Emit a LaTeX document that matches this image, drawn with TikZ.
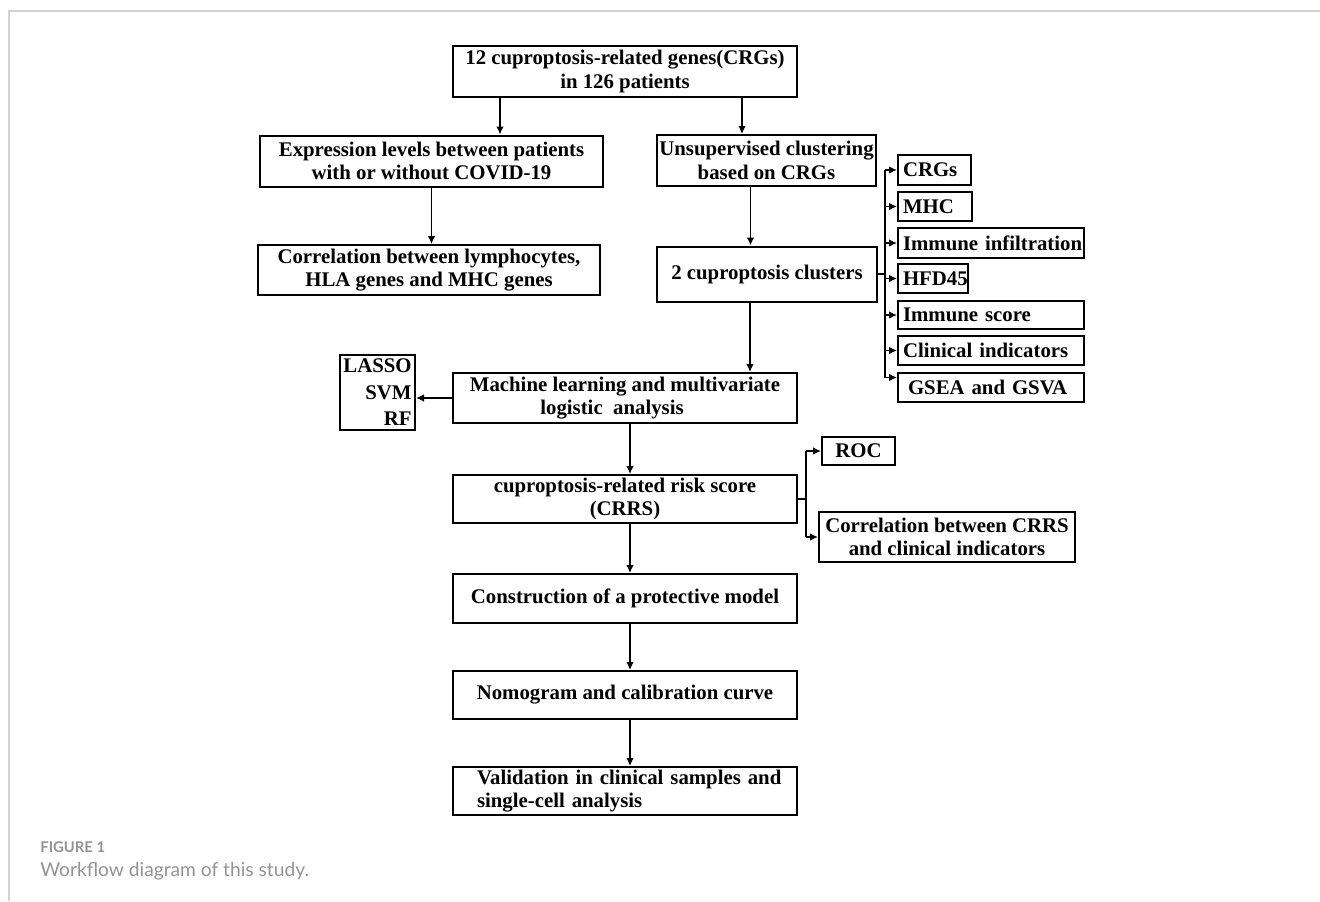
\documentclass[tikz,border=0pt]{standalone}
\usepackage{fontspec}
\setmainfont{Liberation Serif}
\newfontfamily\capfont{Lato}
\usetikzlibrary{arrows.meta,calc}
\begin{document}
\begin{tikzpicture}[x=.5pt,y=-.5pt,
    every node/.style={font=\bfseries\fontsize{10.4}{11.7}\selectfont},
    box/.style={draw,line width=1pt,inner sep=0pt,align=center},
    tag/.style={box,anchor=west,align=left,inner xsep=2.5pt},
    arr/.style={-{Latex[length=4pt,width=3.8pt]},line width=.75pt},
    link/.style={line width=.75pt},
    captext/.style={anchor=base west,text=gray!85,inner sep=0pt}]
    \useasboundingbox (0,0) rectangle (1320,901);
    \draw[gray!35,line width=.75pt] (1320,11) -- (9,11) -- (9,901);

    \node[box,minimum width=172pt,minimum height=25.5pt] (gen) at (625,71.5) {12 cuproptosis-related genes(CRGs)\\in 126 patients};
    \node[box,minimum width=171.5pt,minimum height=25.5pt] (expr) at (431.5,161) {Expression levels between patients\\with or without COVID-19};
    \node[box,minimum width=109.5pt,minimum height=25.5pt] (unsup) at (766.5,160.5) {Unsupervised clustering\\based on CRGs};
    \node[box,minimum width=171pt,minimum height=25pt] (corr) at (429,270) {Correlation between lymphocytes,\\HLA genes and MHC genes};
    \node[box,minimum width=110pt,minimum height=27.5pt] (clus) at (767,274) {2 cuproptosis clusters};

    \node[tag,text width=31.5pt,minimum height=15pt] (crgs) at (897,170) {CRGs};
    \node[tag,text width=32pt,minimum height=14.5pt] (mhc) at (897,206.5) {MHC};
    \node[tag,text width=88pt,minimum height=15pt] (inf) at (897,243) {\mbox{Immune infiltration}};
    \node[tag,text width=30pt,minimum height=14.5pt] (hfd) at (897,278.5) {HFD45};
    \node[tag,text width=88pt,minimum height=14pt] (isc) at (897,315) {\mbox{Immune score}};
    \node[tag,text width=88pt,minimum height=14.5pt] (clin) at (897,350.5) {\mbox{Clinical indicators}};
    \node[tag,text width=88pt,minimum height=14.5pt] (gsea) at (897,387.5) {\hspace{2.5pt}\mbox{GSEA and GSVA}};

    \node[box,minimum width=172pt,minimum height=25pt] (ml) at (625,398) {Machine learning and multivariate\\logistic~ analysis\hspace*{13pt}};
    \node[box,minimum width=37.5pt,minimum height=37.5pt,align=right] (lasso) at (377.5,392.5) {LASSO\\[1.5pt]SVM\\[1.5pt]RF};
    \node[box,minimum width=172pt,minimum height=24pt] (crrs) at (625,499) {cuproptosis-related risk score\\(CRRS)};
    \node[box,minimum width=36.5pt,minimum height=14pt] (roc) at (858.5,451) {ROC};
    \node[box,minimum width=128pt,minimum height=25pt] (cor2) at (947,537) {Correlation between CRRS\\and clinical indicators};
    \node[box,minimum width=172pt,minimum height=24.5pt] (cons) at (625,598.5) {Construction of a protective model};
    \node[box,minimum width=172pt,minimum height=24pt] (nomo) at (625,695) {Nomogram and calibration curve};
    \node[box,minimum width=172pt,minimum height=24pt,text width=148pt,align=left] (valid) at (625,791) {\mbox{Validation in clinical samples and}\\\mbox{single-cell analysis}};

    \path ($(gen.south)+(-125,0)$) coordinate (g1)
          ($(gen.south)+(117,0)$) coordinate (g2)
          ($(unsup.south)+(-16,0)$) coordinate (u1)
          ($(clus.south)+(-17,0)$) coordinate (c1);
    \draw[arr] (g1) -- (g1 |- expr.north);
    \draw[arr] (g2) -- (g2 |- unsup.north);
    \draw[arr] (expr.south) -- (expr.south |- corr.north);
    \draw[arr] (u1) -- (u1 |- clus.north);
    \draw[arr] (c1) -- (c1 |- ml.north);
    \draw[arr] (ml.west) -- (ml.west -| lasso.east);
    \draw[arr] ($(ml.south)+(5,0)$) -- ($(crrs.north)+(5,0)$);
    \draw[arr] ($(crrs.south)+(5,0)$) -- ($(cons.north)+(5,0)$);
    \draw[arr] ($(cons.south)+(5,0)$) -- ($(nomo.north)+(5,0)$);
    \draw[arr] ($(nomo.south)+(5,0)$) -- ($(valid.north)+(5,0)$);

    \coordinate (bus) at (885,274);
    \draw[link] (clus.east) -- (bus);
    \draw[link] (bus |- crgs.west) -- ($(bus |- gsea.west)+(0,-10)$);
    \foreach \n in {crgs,mhc,inf,hfd,isc,clin}
        \draw[arr] (bus |- \n.west) -- (\n.west);
    \draw[arr] ($(bus |- gsea.west)+(0,-10)$) -- ($(gsea.west)+(0,-10)$);

    \coordinate (fork) at (806,499);
    \draw[link] (crrs.east) -- (fork);
    \draw[link] (fork |- roc.west) -- (fork |- cor2.west);
    \draw[arr] (fork |- roc.west) -- (roc.west);
    \draw[arr] (fork |- cor2.west) -- (cor2.west);

    \node[captext,font=\capfont\bfseries\fontsize{7.4}{8}\selectfont] (fig) at (40,852) {FIGURE 1};
    \node[captext,font=\capfont\fontsize{9.6}{10}\selectfont] (title) at (40,876) {Workflow diagram of this study.};
\end{tikzpicture}
\end{document}
